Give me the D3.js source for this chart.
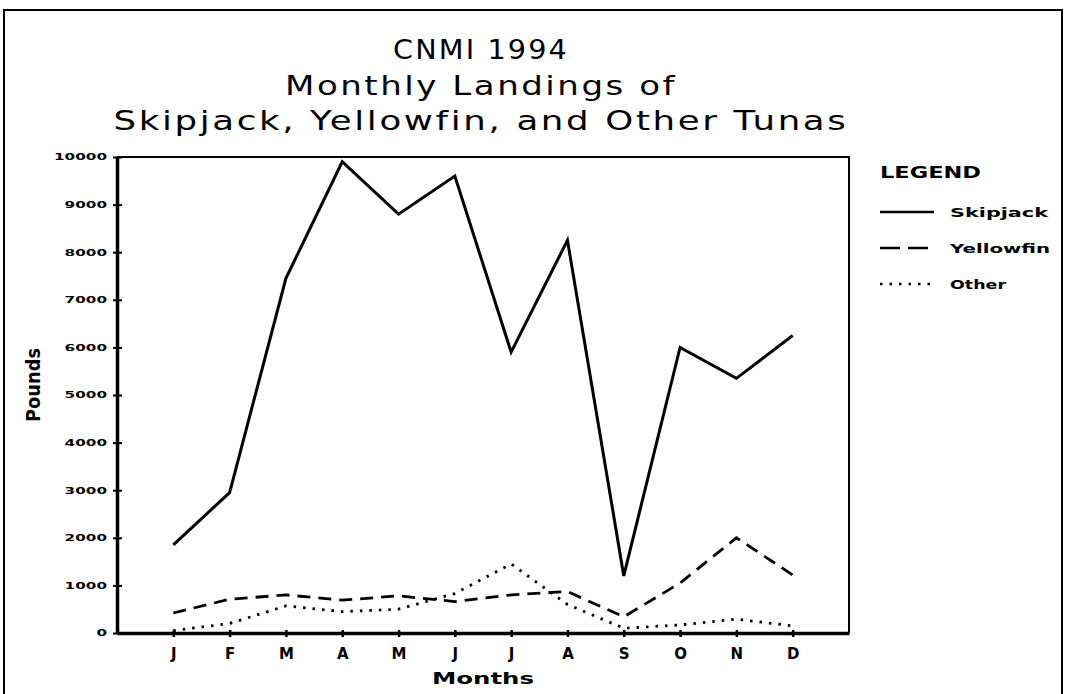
<!DOCTYPE html>
<html>
<head>
<meta charset="utf-8">
<script src="https://cdn.jsdelivr.net/npm/d3@7"></script>
<style>
  body { margin: 0; background: #fff; }
  text { fill: #000; }
</style>
</head>
<body>
<div id="chart"></div>
<script>
const months = ["J", "F", "M", "A", "M", "J", "J", "A", "S", "O", "N", "D"];
const skipjack = [1850, 2950, 7450, 9900, 8800, 9600, 5900, 8250, 1200, 6000, 5350, 6250];
const yellowfin = [420, 710, 800, 690, 780, 660, 800, 870, 340, 1050, 2000, 1220];
const other = [50, 200, 570, 450, 500, 830, 1450, 600, 100, 170, 290, 150];
const yTicks = [0, 1000, 2000, 3000, 4000, 5000, 6000, 7000, 8000, 9000, 10000];
const titleLines = ["CNMI 1994", "Monthly Landings of", "Skipjack, Yellowfin, and Other Tunas"];

const width = 1066, height = 694;
const margin = {top: 157, right: 217, bottom: 61, left: 117};

const svg = d3.select("#chart")
  .append("svg")
    .attr("width", width)
    .attr("height", height);

// outer frame
svg.append("rect")
  .attr("x", 4).attr("y", 10)
  .attr("width", 1058).attr("height", 700)
  .attr("fill", "none")
  .attr("stroke", "#000")
  .attr("stroke-width", 2);

// title
svg.append("g")
  .selectAll("text")
  .data(titleLines)
  .join("text")
    .attr("x", 481)
    .attr("y", (d, i) => 59 + i * 35.5)
    .attr("text-anchor", "middle")
    .attr("font-family", "'DejaVu Sans', sans-serif")
    .attr("font-size", 27)
    .style("letter-spacing", "2px")
    .attr("textLength", (d, i) => [176, 392, 735][i])
    .attr("lengthAdjust", "spacingAndGlyphs")
    .text(d => d);

const x = d3.scaleLinear()
  .domain([0, 13])
  .range([margin.left, width - margin.right]);

const y = d3.scaleLinear()
  .domain([0, 10000])
  .range([height - margin.bottom, margin.top]);

// plot frame (top and right thinner)
svg.append("path")
  .attr("d", `M${x(0)},${y(10000)}H${x(13)}V${y(0)}`)
  .attr("fill", "none")
  .attr("stroke", "#000")
  .attr("stroke-width", 2);

// y axis
const yAxis = svg.append("g")
  .attr("transform", `translate(${x(0)},0)`)
  .call(d3.axisLeft(y).tickValues(yTicks).tickSize(0).tickPadding(10).tickFormat(d3.format("d")));
yAxis.select(".domain").attr("stroke-width", 3.5);
yAxis.selectAll(".tick")
  .append("line")
    .attr("x1", -4).attr("x2", 5)
    .attr("stroke", "#000")
    .attr("stroke-width", 2);
yAxis.selectAll(".tick text")
  .attr("font-family", "'DejaVu Sans', sans-serif")
  .attr("font-weight", "bold")
  .attr("font-size", 9)
  .attr("textLength", d => String(d).length * 10.6)
  .attr("lengthAdjust", "spacingAndGlyphs");

// x axis
const xAxis = svg.append("g")
  .attr("transform", `translate(0,${y(0)})`)
  .call(d3.axisBottom(x).tickValues(d3.range(1, 13)).tickSize(0).tickPadding(15)
    .tickFormat(i => months[i - 1]));
xAxis.select(".domain").attr("stroke-width", 3.5);
xAxis.selectAll(".tick")
  .append("line")
    .attr("y1", -3).attr("y2", 4)
    .attr("stroke", "#000")
    .attr("stroke-width", 2.5);
xAxis.selectAll(".tick text")
  .attr("font-family", "'DejaVu Sans', sans-serif")
  .attr("font-weight", "bold")
  .attr("font-size", 15);

// axis titles
svg.append("text")
  .attr("x", 483).attr("y", 684)
  .attr("text-anchor", "middle")
  .attr("font-family", "'DejaVu Sans', sans-serif")
  .attr("font-weight", "bold")
  .attr("font-size", 16)
  .attr("textLength", 102)
  .attr("lengthAdjust", "spacingAndGlyphs")
  .text("Months");

svg.append("text")
  .attr("transform", "translate(40,385) rotate(-90)")
  .attr("text-anchor", "middle")
  .attr("font-family", "'Liberation Sans Narrow', 'DejaVu Sans Condensed', sans-serif")
  .attr("font-weight", "bold")
  .attr("font-size", 19)
  .attr("textLength", 74)
  .attr("lengthAdjust", "spacingAndGlyphs")
  .text("Pounds");

// series
const series = [
  {name: "Skipjack", values: skipjack, dash: null, width: 3},
  {name: "Yellowfin", values: yellowfin, dash: "13,8", width: 2.8},
  {name: "Other", values: other, dash: "2.5,7", width: 2.8}
];

const line = d3.line()
  .x((d, i) => x(i + 1))
  .y(d => y(d));

svg.append("g")
  .selectAll("path")
  .data(series)
  .join("path")
    .attr("d", d => line(d.values))
    .attr("fill", "none")
    .attr("stroke", "#000")
    .attr("stroke-width", d => d.width)
    .attr("stroke-dasharray", d => d.dash);

// legend
const legend = svg.append("g");
legend.append("text")
  .attr("x", 880).attr("y", 178)
  .attr("font-family", "'DejaVu Sans', sans-serif")
  .attr("font-weight", "bold")
  .attr("font-size", 16)
  .attr("textLength", 101)
  .attr("lengthAdjust", "spacingAndGlyphs")
  .text("LEGEND");

const legendItems = legend.selectAll("g.item")
  .data(series)
  .join("g")
    .attr("class", "item")
    .attr("transform", (d, i) => `translate(880,${212 + i * 36})`);
legendItems.append("line")
  .attr("x1", 0).attr("x2", d => d.name === "Yellowfin" ? 48 : 54)
  .attr("stroke", "#000")
  .attr("stroke-width", 2.5)
  .attr("stroke-dasharray", d => d.name === "Yellowfin" ? "20,8" : d.dash);
legendItems.append("text")
  .attr("x", 70).attr("y", 5)
  .attr("font-family", "'DejaVu Sans', sans-serif")
  .attr("font-weight", "bold")
  .attr("font-size", 13)
  .attr("textLength", d => ({Skipjack: 98, Yellowfin: 100, Other: 56})[d.name])
  .attr("lengthAdjust", "spacingAndGlyphs")
  .text(d => d.name);
</script>
</body>
</html>
